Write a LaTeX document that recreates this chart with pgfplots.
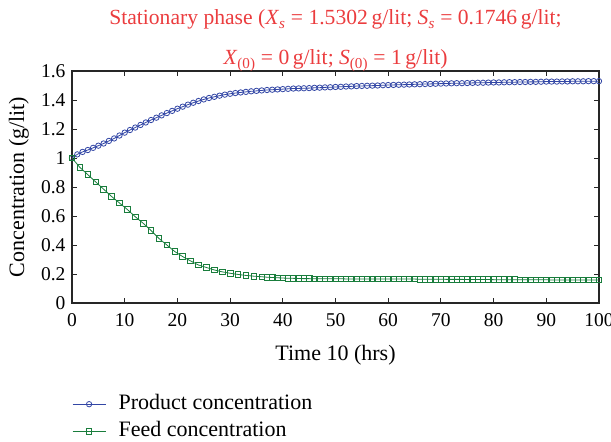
\documentclass[border=0pt]{standalone}
\usepackage{pgfplots}
\pgfplotsset{compat=1.18}
\usepackage{pgfplotstable}
\usepackage{fontspec}
\setmainfont{Liberation Serif}
\definecolor{titlered}{RGB}{235,60,62}
\definecolor{prodblue}{RGB}{50,70,165}
\definecolor{feedgreen}{RGB}{25,125,60}

\pgfplotstableread{
t P
0 1.000
1 1.025
2 1.042
3 1.055
4 1.070
5 1.085
6 1.100
7 1.118
8 1.135
9 1.155
10 1.175
11 1.193
12 1.210
13 1.228
14 1.245
15 1.262
16 1.278
17 1.294
18 1.310
19 1.325
20 1.340
21 1.354
22 1.368
23 1.381
24 1.393
25 1.404
26 1.414
27 1.422
28 1.430
29 1.437
30 1.443
31 1.448
32 1.452
33 1.456
34 1.460
35 1.463
36 1.466
37 1.469
38 1.471
39 1.473
40 1.475
41 1.477
42 1.479
43 1.480
44 1.481
45 1.482
46 1.484
47 1.485
48 1.487
49 1.488
50 1.490
51 1.491
52 1.493
53 1.494
54 1.496
55 1.497
56 1.498
57 1.499
58 1.500
59 1.502
60 1.503
61 1.504
62 1.505
63 1.506
64 1.507
65 1.508
66 1.509
67 1.510
68 1.511
69 1.512
70 1.513
71 1.514
72 1.515
73 1.516
74 1.516
75 1.517
76 1.518
77 1.519
78 1.519
79 1.520
80 1.521
81 1.521
82 1.522
83 1.523
84 1.523
85 1.524
86 1.524
87 1.525
88 1.525
89 1.526
90 1.527
91 1.527
92 1.527
93 1.528
94 1.528
95 1.529
96 1.529
97 1.529
98 1.530
99 1.530
100 1.530
}\prodtable

\pgfplotstableread{
t S
0 1.000
1.5 0.935
3 0.885
4.5 0.835
6 0.785
7.5 0.735
9 0.690
10.5 0.645
12 0.595
13.5 0.550
15 0.500
16.5 0.445
18 0.400
19.5 0.355
21 0.320
22.5 0.290
24 0.262
25.5 0.245
27 0.228
28.5 0.215
30 0.205
31.5 0.197
33 0.190
34.5 0.185
36 0.181
37 0.178
38 0.176
39 0.174
40 0.172
41 0.171
42 0.170
43 0.169
44 0.168
45 0.168
46 0.167
47 0.167
48 0.167
49 0.167
50 0.167
51 0.167
52 0.166
53 0.166
54 0.166
55 0.166
56 0.166
57 0.166
58 0.166
59 0.166
60 0.166
61 0.165
62 0.165
63 0.165
64 0.165
65 0.165
66 0.164
67 0.164
68 0.164
69 0.164
70 0.164
71 0.163
72 0.163
73 0.163
74 0.163
75 0.162
76 0.162
77 0.162
78 0.162
79 0.162
80 0.161
81 0.161
82 0.161
83 0.161
84 0.161
85 0.160
86 0.160
87 0.160
88 0.160
89 0.160
90 0.160
91 0.159
92 0.159
93 0.159
94 0.159
95 0.159
96 0.158
97 0.158
98 0.158
99 0.158
100 0.158
}\feedtable

\begin{document}
\begin{tikzpicture}
\useasboundingbox (-72bp,-139bp) rectangle (539bp,303bp);
\begin{axis}[
  scale only axis,
  width=527bp, height=232bp,
  xmin=0, xmax=100, ymin=0, ymax=1.6,
  xtick={0,10,...,100},
  ytick={0,0.2,...,1.6},
  yticklabels={0,0.2,0.4,0.6,0.8,1,1.2,1.4,1.6},
  tick align=inside,
  major tick length=5bp,
  axis line style={line width=1.1pt, black!85},
  every tick/.style={black!85, line width=0.9pt},
  /pgf/number format/assume math mode=true,
  tick label style={font=\fontsize{19.5bp}{22bp}\selectfont},
  xticklabel style={yshift=-7bp},
  yticklabel style={xshift=-3bp},
  label style={font=\fontsize{22bp}{24bp}\selectfont},
  xlabel={Time 10 (hrs)},
  xlabel style={at={(axis description cs:0.5,0)}, anchor=base, yshift=-57bp},
  ylabel={Concentration (g/lit)},
  ylabel style={at={(axis description cs:-0.1006,0.5)}, anchor=center, rotate=0},
  legend style={at={(axis description cs:0,0)}, anchor=north west, yshift=-90bp,
    draw=none, fill=none, inner sep=0pt, font=\fontsize{22bp}{24bp}\selectfont, row sep=5bp,
    nodes={inner sep=1bp, text height=15bp, text depth=5bp},
    /tikz/every even column/.append style={column sep=0bp}},
  legend cell align=left,
  legend image code/.code={
    \path[draw=none, fill=none, mark=none] (0bp,0bp) -- (45bp,0bp);
    \draw[#1, mark repeat=2, mark phase=2] plot coordinates {(0bp,0bp) (16.5bp,0bp) (33bp,0bp)};
  },
]
\addplot[prodblue, line width=0.8pt, mark=o, mark size=2.7bp, mark options={line width=0.8pt}] table[x=t,y=P] {\prodtable};
\addlegendentry{Product concentration}
\addplot[feedgreen, line width=0.8pt, mark=square, mark size=2.8bp, mark options={line width=0.8pt}] table[x=t,y=S] {\feedtable};
\addlegendentry{Feed concentration}
\end{axis}
\node[anchor=base, text=titlered, font=\fontsize{21.6bp}{24bp}\selectfont] at (263.5bp,278bp)
  {Stationary phase (\textit{X}\textsubscript{\textit{s}} = 1.5302\,g/lit; \textit{S}\textsubscript{\textit{s}} = 0.1746\,g/lit;};
\node[anchor=base, text=titlered, font=\fontsize{21.6bp}{24bp}\selectfont] at (263.5bp,238bp)
  {\textit{X}\textsubscript{(0)} = 0\,g/lit; \textit{S}\textsubscript{(0)} = 1\,g/lit)};
\end{tikzpicture}
\end{document}
